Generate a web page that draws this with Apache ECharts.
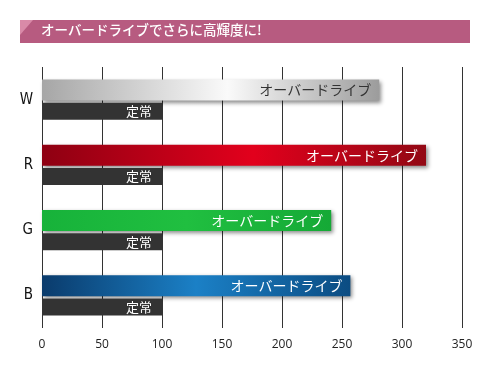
<!DOCTYPE html>
<html>
<head>
<meta charset="utf-8">
<script src="https://cdn.jsdelivr.net/npm/echarts@6/dist/echarts.min.js"></script>
<style>html,body{margin:0;padding:0;background:#fff;}#c{width:490px;height:370px;}</style>
</head>
<body>
<div id="c"></div>
<script>
const title = 'オーバードライブでさらに高輝度に!';
const categories = ['W', 'R', 'G', 'B'];
const overdriveName = 'オーバードライブ';
const normalName = '定常';
const overdriveValues = [281, 320, 241, 257];
const normalValues = [100, 100, 100, 100];
const xMin = 0, xMax = 350, xInterval = 50;

const G = echarts.graphic.LinearGradient;
const overdriveFills = [
  new G(0,0,1,0,[{offset:0,color:'#a6a6a6'},{offset:0.55,color:'#fafafa'},{offset:1,color:'#9c9c9c'}]),
  new G(0,0,1,0,[{offset:0,color:'#8e0012'},{offset:0.55,color:'#e2001c'},{offset:1,color:'#920814'}]),
  new G(0,0,1,0,[{offset:0,color:'#17b23a'},{offset:0.5,color:'#20bf40'},{offset:1,color:'#15a936'}]),
  new G(0,0,1,0,[{offset:0,color:'#0a3b6c'},{offset:0.5,color:'#1b80c6'},{offset:1,color:'#0b4c82'}])
];
const overdriveLabelColors = ['#333333', '#ffffff', '#ffffff', '#ffffff'];

const font = '"Noto Sans CJK JP", sans-serif';
const chart = echarts.init(document.getElementById('c'));
chart.setOption({
  animation: false,
  backgroundColor: '#ffffff',
  graphic: [
    {type:'rect', shape:{x:20,y:20,width:450,height:23}, style:{fill:'#b75b80'}},
    {type:'polygon', shape:{points:[[20,20],[33,20],[20,35]]}, style:{fill:'#d98aa8'}},
    {type:'text', left:41, top:23, style:{text:title, fill:'#ffffff', font:'500 13.5px ' + font}}
  ],
  grid: {left:42, right:28, top:67, bottom:42},
  xAxis: {
    type:'value', min:xMin, max:xMax, interval:xInterval,
    axisLine:{show:false}, axisTick:{show:false},
    axisLabel:{color:'#222', fontSize:12, margin:11, fontFamily:'"Open Sans", sans-serif'},
    splitLine:{show:true, lineStyle:{color:'#333', width:1}}
  },
  yAxis: {
    type:'category', data:categories, inverse:true,
    axisLine:{show:false}, axisTick:{show:false},
    axisLabel:{color:'#111', fontSize:15, margin:9, fontFamily:'"DejaVu Sans Condensed", "DejaVu Sans", sans-serif'}
  },
  series: [
    {
      name:overdriveName, type:'bar', barWidth:21, barGap:'10%',
      data: overdriveValues.map((v,i)=>({
        value:v,
        itemStyle:{color:overdriveFills[i], shadowBlur:4, shadowOffsetX:2, shadowOffsetY:2, shadowColor:'rgba(0,0,0,0.45)'},
        label:{color:overdriveLabelColors[i]}
      })),
      label:{show:true, position:'insideRight', offset:[-3,0], formatter:overdriveName, fontSize:14, fontFamily:font}
    },
    {
      name:normalName, type:'bar', barWidth:17,
      itemStyle:{color:'#333333'},
      data: normalValues,
      label:{show:true, position:'insideRight', offset:[-5,0], formatter:normalName, color:'#ffffff', fontSize:13, fontFamily:font}
    }
  ]
});
</script>
</body>
</html>
